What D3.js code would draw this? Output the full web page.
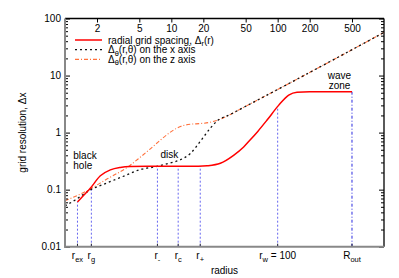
<!DOCTYPE html>
<html>
<head>
<meta charset="utf-8">
<script src="https://cdn.jsdelivr.net/npm/d3@7"></script>
<style>
body { margin: 0; background: #fff; }
svg text { font-family: "Liberation Sans", Arial, sans-serif; font-size: 10px; fill: #000; }
</style>
</head>
<body>
<div class="visHolder"></div>
<script>
// values
var radialR = [1.31, 1.5, 1.73, 2.15, 2.67, 3.31, 4.1, 6, 10, 18, 21.7, 28.9, 38.5, 47.9, 55, 65, 79.5, 102, 127, 152, 200, 500];
var radialDr = [0.061, 0.08, 0.106, 0.175, 0.222, 0.245, 0.254, 0.256, 0.256, 0.257, 0.262, 0.29, 0.4, 0.56, 0.74, 1.05, 1.66, 3.0, 4.55, 5.12, 5.2, 5.2];

var xAxisR = [1, 1.25, 1.73, 2.4, 3.5, 5.1, 7.3, 9.8, 12.2, 15.1, 18.7, 23.3, 26.9, 35.9, 44.6, 100, 300, 1000];
var xAxisDth = [0.052, 0.066, 0.099, 0.128, 0.17, 0.225, 0.255, 0.295, 0.335, 0.43, 0.7, 1.2, 1.6, 2.08, 2.58, 5.7, 17, 57];

var zAxisR = [1, 1.55, 2.5, 3.96, 5.1, 6.35, 7.9, 9.8, 12.2, 15.1, 18.7, 23.3, 28.9, 35.9, 44.6, 100, 300, 1000];
var zAxisDth = [0.064, 0.092, 0.155, 0.255, 0.37, 0.52, 0.74, 1.02, 1.28, 1.4, 1.44, 1.52, 1.72, 2.08, 2.58, 5.7, 17, 57];

var topTicks = [2, 5, 10, 20, 50, 100, 200, 500];
var yTicks = [0.01, 0.1, 1, 10, 100];

// radii marked on the bottom axis
var markName = ['r', 'r', 'r', 'r', 'r', 'r', 'R'];
var markSub = ['ex', 'g', '-', 'c', '+', 'w', 'out'];
var markTail = ['', '', '', '', '', ' = 100', ''];
var markR = [1.31, 1.77, 7.4, 11.6, 18.7, 100, 500];
var markTop = [0.061, 0.105, 0.255, 0.256, 0.257, 2.9, 5.2];

var width = 399,
    height = 278,
    plotLeft = 65,
    plotRight = 384,
    plotTop = 18.5,
    plotBottom = 246.7;

var svg = d3
    .select('.visHolder')
    .append('svg')
    .attr('width', width)
    .attr('height', height);

var x = d3.scaleLog().domain([1, 1000]).range([plotLeft, plotRight]);
var y = d3.scaleLog().domain([0.01, 100]).range([plotBottom, plotTop]);

var minorY = y.ticks().filter(function (d) {
    return yTicks.indexOf(d) < 0;
});

// vertical marker lines
svg.append('g')
    .selectAll('line')
    .data(markR)
    .enter()
    .append('line')
    .attr('x1', d => x(d))
    .attr('x2', d => x(d))
    .attr('y1', plotBottom)
    .attr('y2', (d, i) => y(markTop[i]))
    .style('stroke', (d, i) => i === 6 ? '#2a2ae0' : '#6666f0')
    .style('stroke-width', 1)
    .style('stroke-dasharray', (d, i) => i === 6 ? '3,2,1,2' : '2,2');

// small ticks at the marker radii
svg.append('g')
    .selectAll('line')
    .data(markR)
    .enter()
    .append('line')
    .attr('x1', d => x(d))
    .attr('x2', d => x(d))
    .attr('y1', plotBottom)
    .attr('y2', plotBottom - 3)
    .style('stroke', '#223')
    .style('stroke-width', 1);

// curves
var line = d3.line()
    .x(d => x(d[0]))
    .y(d => y(d[1]))
    .curve(d3.curveMonotoneX);

svg.append('path')
    .datum(d3.zip(zAxisR, zAxisDth))
    .attr('d', line)
    .style('fill', 'none')
    .style('stroke', '#ff6f3a')
    .style('stroke-width', 1.1)
    .style('stroke-dasharray', '4,2,1,2');

svg.append('path')
    .datum(d3.zip(xAxisR, xAxisDth))
    .attr('d', line)
    .style('fill', 'none')
    .style('stroke', '#111')
    .style('stroke-width', 1.3)
    .style('stroke-dasharray', '2,3');

svg.append('path')
    .datum(d3.zip(radialR, radialDr))
    .attr('d', line)
    .style('fill', 'none')
    .style('stroke', '#ff0000')
    .style('stroke-width', 1.5);

// left axis
svg.append('g')
    .attr('transform', 'translate(' + plotLeft + ',0)')
    .call(d3.axisLeft(y).tickValues(yTicks).tickFormat(d3.format('~g')).tickSize(-5).tickPadding(4));
svg.append('g')
    .attr('transform', 'translate(' + plotLeft + ',0)')
    .call(d3.axisLeft(y).tickValues(minorY).tickFormat('').tickSize(-3));

// right axis, ticks only
svg.append('g')
    .attr('transform', 'translate(' + plotRight + ',0)')
    .call(d3.axisRight(y).tickValues(yTicks).tickFormat('').tickSize(-5));
svg.append('g')
    .attr('transform', 'translate(' + plotRight + ',0)')
    .call(d3.axisRight(y).tickValues(minorY).tickFormat('').tickSize(-3));

// top axis, labels sit inside the frame
svg.append('g')
    .attr('transform', 'translate(0,' + plotTop + ')')
    .call(d3.axisBottom(x).tickValues(topTicks).tickFormat(d3.format('d')).tickSize(4).tickPadding(2.5));

svg.selectAll('.domain').remove();
svg.selectAll('.tick text')
    .style('font-family', '"Liberation Sans", Arial, sans-serif')
    .style('font-size', '10px');

// frame
svg.append('line').attr('x1', plotLeft).attr('x2', plotRight).attr('y1', plotTop).attr('y2', plotTop)
    .style('stroke', '#000').style('stroke-width', 1.3);
svg.append('line').attr('x1', plotRight).attr('x2', plotRight).attr('y1', plotTop).attr('y2', plotBottom)
    .style('stroke', '#000').style('stroke-width', 1.3);
svg.append('line').attr('x1', plotLeft).attr('x2', plotLeft).attr('y1', plotTop).attr('y2', plotBottom + 1)
    .style('stroke', '#888').style('stroke-width', 2);
svg.append('line').attr('x1', plotLeft - 1).attr('x2', plotRight).attr('y1', plotBottom).attr('y2', plotBottom)
    .style('stroke', '#888').style('stroke-width', 2);

// bottom labels
var markLabel = svg.append('g')
    .selectAll('text')
    .data(markR)
    .enter()
    .append('text')
    .attr('x', d => x(d))
    .attr('y', 258.5)
    .attr('text-anchor', 'middle');
markLabel.append('tspan').text((d, i) => markName[i]);
markLabel.append('tspan')
    .attr('dy', 3)
    .style('font-size', '7.5px')
    .text((d, i) => markSub[i]);
markLabel.append('tspan')
    .attr('dy', -3)
    .text((d, i) => markTail[i]);

// axis titles
svg.append('text')
    .attr('x', (plotLeft + plotRight) / 2)
    .attr('y', 274)
    .attr('text-anchor', 'middle')
    .text('radius');

svg.append('text')
    .attr('transform', 'translate(26,' + (plotTop + plotBottom) / 2 + ') rotate(-90)')
    .attr('text-anchor', 'middle')
    .text('grid resolution, \u0394x');

// region notes
svg.append('text').attr('x', 73.3).attr('y', 159).text('black');
svg.append('text').attr('x', 73.3).attr('y', 168.5).text('hole');
svg.append('text').attr('x', 160.5).attr('y', 158).text('disk');
svg.append('text').attr('x', 339.5).attr('y', 78.5).attr('text-anchor', 'middle').text('wave');
svg.append('text').attr('x', 339.5).attr('y', 88.5).attr('text-anchor', 'middle').text('zone');

// legend
var legColor = ['#ff0000', '#111', '#ff6f3a'];
var legDash = [null, '2,3', '4,2,1,2'];
var legWidth = [1.5, 1.3, 1.1];
var legSub = ['r', '\u03b8', '\u03b8'];
var legHead = ['radial grid spacing, \u0394', '\u0394', '\u0394'];
var legTail = ['(r)', '(r,\u03b8) on the x axis', '(r,\u03b8) on the z axis'];

var leg = svg.append('g')
    .selectAll('g')
    .data(legColor)
    .enter()
    .append('g')
    .attr('transform', (d, i) => 'translate(0,' + (40 + i * 9.67) + ')');
leg.append('line')
    .attr('x1', 75)
    .attr('x2', 102)
    .style('stroke', d => d)
    .style('stroke-width', (d, i) => legWidth[i])
    .style('stroke-dasharray', (d, i) => legDash[i]);
var legText = leg.append('text')
    .attr('x', 108)
    .attr('y', 3.5);
legText.append('tspan').text((d, i) => legHead[i]);
legText.append('tspan')
    .attr('dy', 2.5)
    .style('font-size', '7.5px')
    .text((d, i) => legSub[i]);
legText.append('tspan')
    .attr('dy', -2.5)
    .text((d, i) => legTail[i]);
</script>
</body>
</html>
